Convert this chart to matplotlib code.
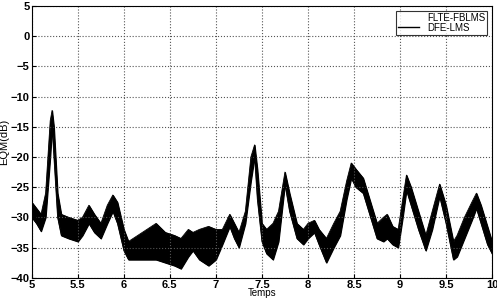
import matplotlib
matplotlib.use("Agg")
import matplotlib.pyplot as plt
from matplotlib.lines import Line2D

# Time nodes (s) and read-off upper/lower envelope of the noisy DFE-LMS EQM band (dB)
t = [5.00, 5.05, 5.10, 5.15, 5.20, 5.22, 5.24, 5.28, 5.32, 5.40, 5.50, 5.55, 5.62, 5.68,
     5.75, 5.82, 5.88, 5.93, 6.00, 6.05, 6.15, 6.25, 6.35, 6.45, 6.55, 6.62, 6.70, 6.75,
     6.82, 6.92, 7.00, 7.07, 7.15, 7.20, 7.25, 7.32, 7.38, 7.42, 7.45, 7.50, 7.55, 7.62,
     7.68, 7.75, 7.80, 7.88, 7.95, 8.00, 8.07, 8.12, 8.20, 8.28, 8.35, 8.42, 8.47, 8.52,
     8.60, 8.68, 8.75, 8.82, 8.86, 8.92, 8.98, 9.03, 9.07, 9.12, 9.20, 9.28, 9.35, 9.43,
     9.50, 9.58, 9.62, 9.70, 9.78, 9.83, 9.88, 9.95, 10.00]
upper = [-27.5, -28.5, -29.5, -26.0, -14.0, -12.3, -15.0, -26.0, -29.5, -30.0, -30.5, -30.0,
         -28.0, -29.5, -31.0, -28.0, -26.3, -27.5, -32.0, -34.0, -33.0, -32.0, -31.0, -32.5,
         -33.0, -33.5, -32.0, -32.5, -32.0, -31.5, -32.0, -32.0, -29.5, -31.0, -32.5, -29.0,
         -20.0, -18.0, -22.0, -31.0, -32.0, -31.0, -29.0, -22.5, -26.0, -31.0, -32.0, -31.0,
         -30.5, -32.0, -33.5, -31.0, -29.0, -24.0, -21.0, -22.0, -23.5, -27.5, -31.0, -30.0,
         -29.5, -31.5, -32.0, -27.0, -23.0, -25.0, -29.0, -33.0, -29.0, -24.5, -28.0, -34.0,
         -33.0, -30.0, -27.5, -26.0, -28.0, -31.5, -34.0]
lower = [-30.0, -31.0, -32.3, -30.0, -20.0, -15.0, -20.0, -30.0, -33.0, -33.5, -34.0, -33.0,
         -31.0, -32.5, -33.5, -31.0, -29.0, -31.0, -35.5, -37.0, -37.0, -37.0, -37.0, -37.5,
         -38.0, -38.5, -36.5, -35.5, -37.0, -38.0, -37.0, -34.5, -31.5, -33.5, -35.0, -31.0,
         -24.0, -20.0, -27.0, -34.0, -36.0, -37.0, -34.0, -24.5, -29.0, -33.5, -34.5, -33.5,
         -32.5, -34.5, -37.5, -35.0, -33.0, -27.0, -23.5, -25.0, -26.0, -30.0, -33.5, -34.0,
         -33.5, -34.5, -35.0, -30.0, -25.5, -28.0, -32.0, -35.5, -32.0, -26.5, -31.0, -37.0,
         -36.5, -33.5, -30.5, -28.5, -31.0, -34.5, -36.0]

xticks = [5, 5.5, 6, 6.5, 7, 7.5, 8, 8.5, 9, 9.5, 10]
xticklabels = ["5", "5.5", "6", "6.5", "7", "7.5", "8", "8.5", "9", "9.5", "10"]
yticks = [5, 0, -5, -10, -15, -20, -25, -30, -35, -40]
legend_labels = ["FLTE-FBLMS", "DFE-LMS"]

plt.rcParams['font.family'] = ['Liberation Sans', 'DejaVu Sans']
fig = plt.figure(figsize=(4.97, 2.98), dpi=100)
ax = fig.add_axes([0.064, 0.068, 0.926, 0.912])

ax.fill_between(t, lower, upper, color='black', linewidth=0.8, edgecolor='black')
ax.plot(t, upper, color='black', linewidth=0.6)
ax.plot(t, lower, color='black', linewidth=0.6)

ax.set_xlim(5, 10)
ax.set_ylim(-40, 5)
ax.set_xticks(xticks)
ax.set_xticklabels(xticklabels)
ax.set_yticks(yticks)
ax.tick_params(direction='in', labelsize=8, length=3, pad=1.5)
for lab in ax.get_xticklabels() + ax.get_yticklabels():
    lab.set_fontweight('bold')
ax.grid(True, linestyle=':', color='#555555', linewidth=0.8)
ax.set_xlabel("Temps", fontsize=7, labelpad=-1)
ax.set_ylabel("EQM(dB)", fontsize=8, labelpad=1)

handles = [Line2D([], [], color='white', linewidth=1.0),
           Line2D([], [], color='black', linewidth=1.0)]
leg = ax.legend(handles, legend_labels, loc='upper right', fontsize=7,
                frameon=True, fancybox=False, borderaxespad=0.5,
                handlelength=2.2, borderpad=0.2, labelspacing=0.0)
leg.get_frame().set_edgecolor('black')
leg.get_frame().set_linewidth(0.8)

fig.savefig("out.png", dpi=100)
